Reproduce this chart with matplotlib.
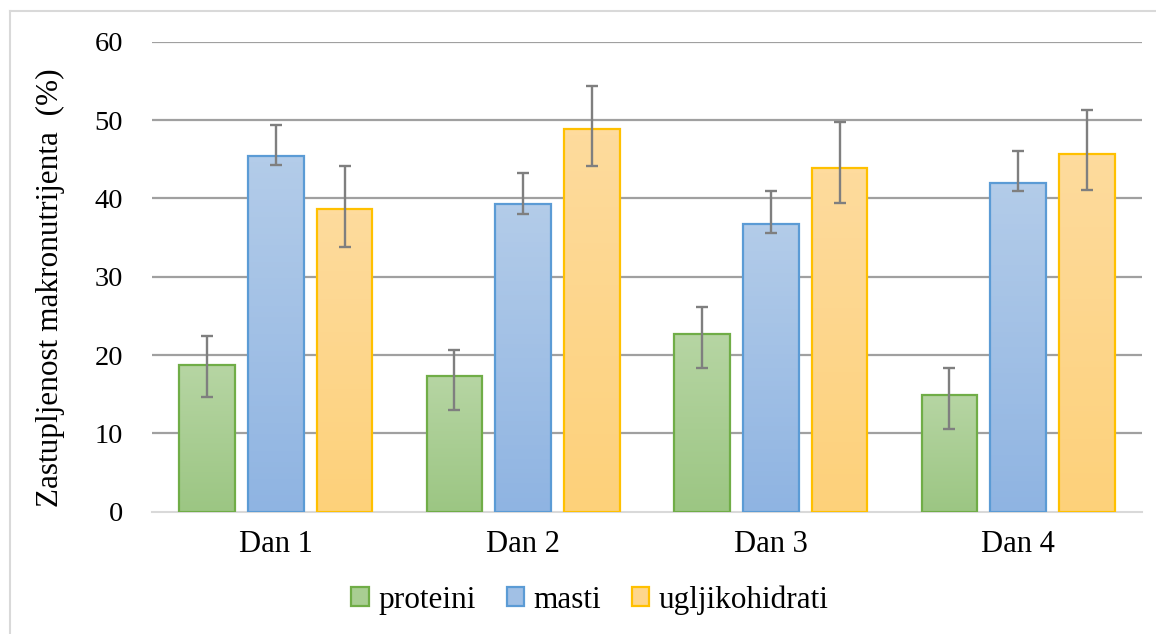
import numpy as np
import matplotlib.pyplot as plt
from matplotlib.colors import to_rgb
from matplotlib.patches import Patch
from matplotlib.lines import Line2D

days = ['Dan 1', 'Dan 2', 'Dan 3', 'Dan 4']
series = ['proteini', 'masti', 'ugljikohidrati']

proteini = [18.7, 17.3, 22.7, 14.9]
proteini_lo = [14.7, 13.0, 18.4, 10.6]
proteini_hi = [22.4, 20.7, 26.1, 18.4]

masti = [45.4, 39.3, 36.7, 42.0]
masti_lo = [44.2, 38.0, 35.6, 40.9]
masti_hi = [49.4, 43.3, 40.9, 46.1]

ugljikohidrati = [38.6, 48.8, 43.9, 45.6]
ugljikohidrati_lo = [33.8, 44.1, 39.4, 41.1]
ugljikohidrati_hi = [44.1, 54.4, 49.7, 51.3]

y_ticks = [0, 10, 20, 30, 40, 50, 60]

# (top colour, bottom colour, edge colour)
styles = [
    ('#b6d5a3', '#9cc683', '#70ad47'),
    ('#b3cce9', '#8fb4e2', '#5b9bd5'),
    ('#fedb9d', '#fdd17a', '#ffc000'),
]

plt.rcParams['font.family'] = 'Liberation Serif'

W, H = 1156, 634
fig = plt.figure(figsize=(W / 100, H / 100), dpi=100)
ax = fig.add_axes([152 / W, 1 - 511.7 / H, 990 / W, 470 / H])

x = np.arange(len(days))
width = 0.225
step = 0.278

data = [
    (proteini, proteini_lo, proteini_hi),
    (masti, masti_lo, masti_hi),
    (ugljikohidrati, ugljikohidrati_lo, ugljikohidrati_hi),
]

for i, (vals, lo, hi) in enumerate(data):
    top, bottom, edge = styles[i]
    pos = x + (i - 1) * step
    bars = ax.bar(pos, vals, width, facecolor='none', edgecolor=edge,
                  linewidth=1.6, zorder=3)
    grad = np.linspace(to_rgb(top), to_rgb(bottom), 64)[:, None, :]
    for b in bars:
        bx, by = b.get_x(), b.get_y()
        bw, bh = b.get_width(), b.get_height()
        im = ax.imshow(grad, extent=[bx, bx + bw, by, by + bh],
                       aspect='auto', origin='upper', zorder=2)
        im.set_clip_path(b)
    vals = np.array(vals)
    yerr = [vals - np.array(lo), np.array(hi) - vals]
    ax.errorbar(pos, vals, yerr=yerr, fmt='none', ecolor='#7f7f7f',
                elinewidth=1.7, capsize=4.5, capthick=1.7, zorder=4)

ax.set_xlim(-0.5, len(days) - 0.5)
ax.set_ylim(0, 60)
ax.set_yticks(y_ticks)
ax.set_xticks(x)
ax.set_xticklabels(days)

ax.grid(axis='y', color='#a0a0a0', linewidth=1.6, zorder=0)
ax.set_axisbelow(True)
ax.get_ygridlines()[0].set_visible(False)

for s in ['top', 'right', 'left']:
    ax.spines[s].set_visible(False)
ax.spines['bottom'].set_color('#d9d9d9')
ax.spines['bottom'].set_linewidth(1.5)

ax.tick_params(axis='y', length=0, pad=21, labelsize=20.5)
ax.tick_params(axis='x', length=0, pad=13, labelsize=22)

fig.text(50 / W, 1 - 288 / H, 'Zastupljenost makronutrijenta  (%)',
         rotation=90, ha='center', va='center', fontsize=22.5)

handles = [Patch(facecolor=np.mean([to_rgb(t), to_rgb(b)], axis=0),
                 edgecolor=e, linewidth=1.6) for t, b, e in styles]
fig.legend(handles, series, loc='center', bbox_to_anchor=(590 / W, 1 - 600 / H),
           ncol=3, frameon=False, fontsize=22.5, handlelength=0.55,
           handleheight=0.55, handletextpad=0.3, columnspacing=1.0)

# chart area border (only left and top edges visible in the crop)
fig.add_artist(Line2D([10 / W, 10 / W], [0, 1 - 11 / H], transform=fig.transFigure,
                      color='#d9d9d9', linewidth=1.5))
fig.add_artist(Line2D([10 / W, 1], [1 - 11 / H, 1 - 11 / H], transform=fig.transFigure,
                      color='#d9d9d9', linewidth=1.5))

fig.savefig('out.png', dpi=100)
